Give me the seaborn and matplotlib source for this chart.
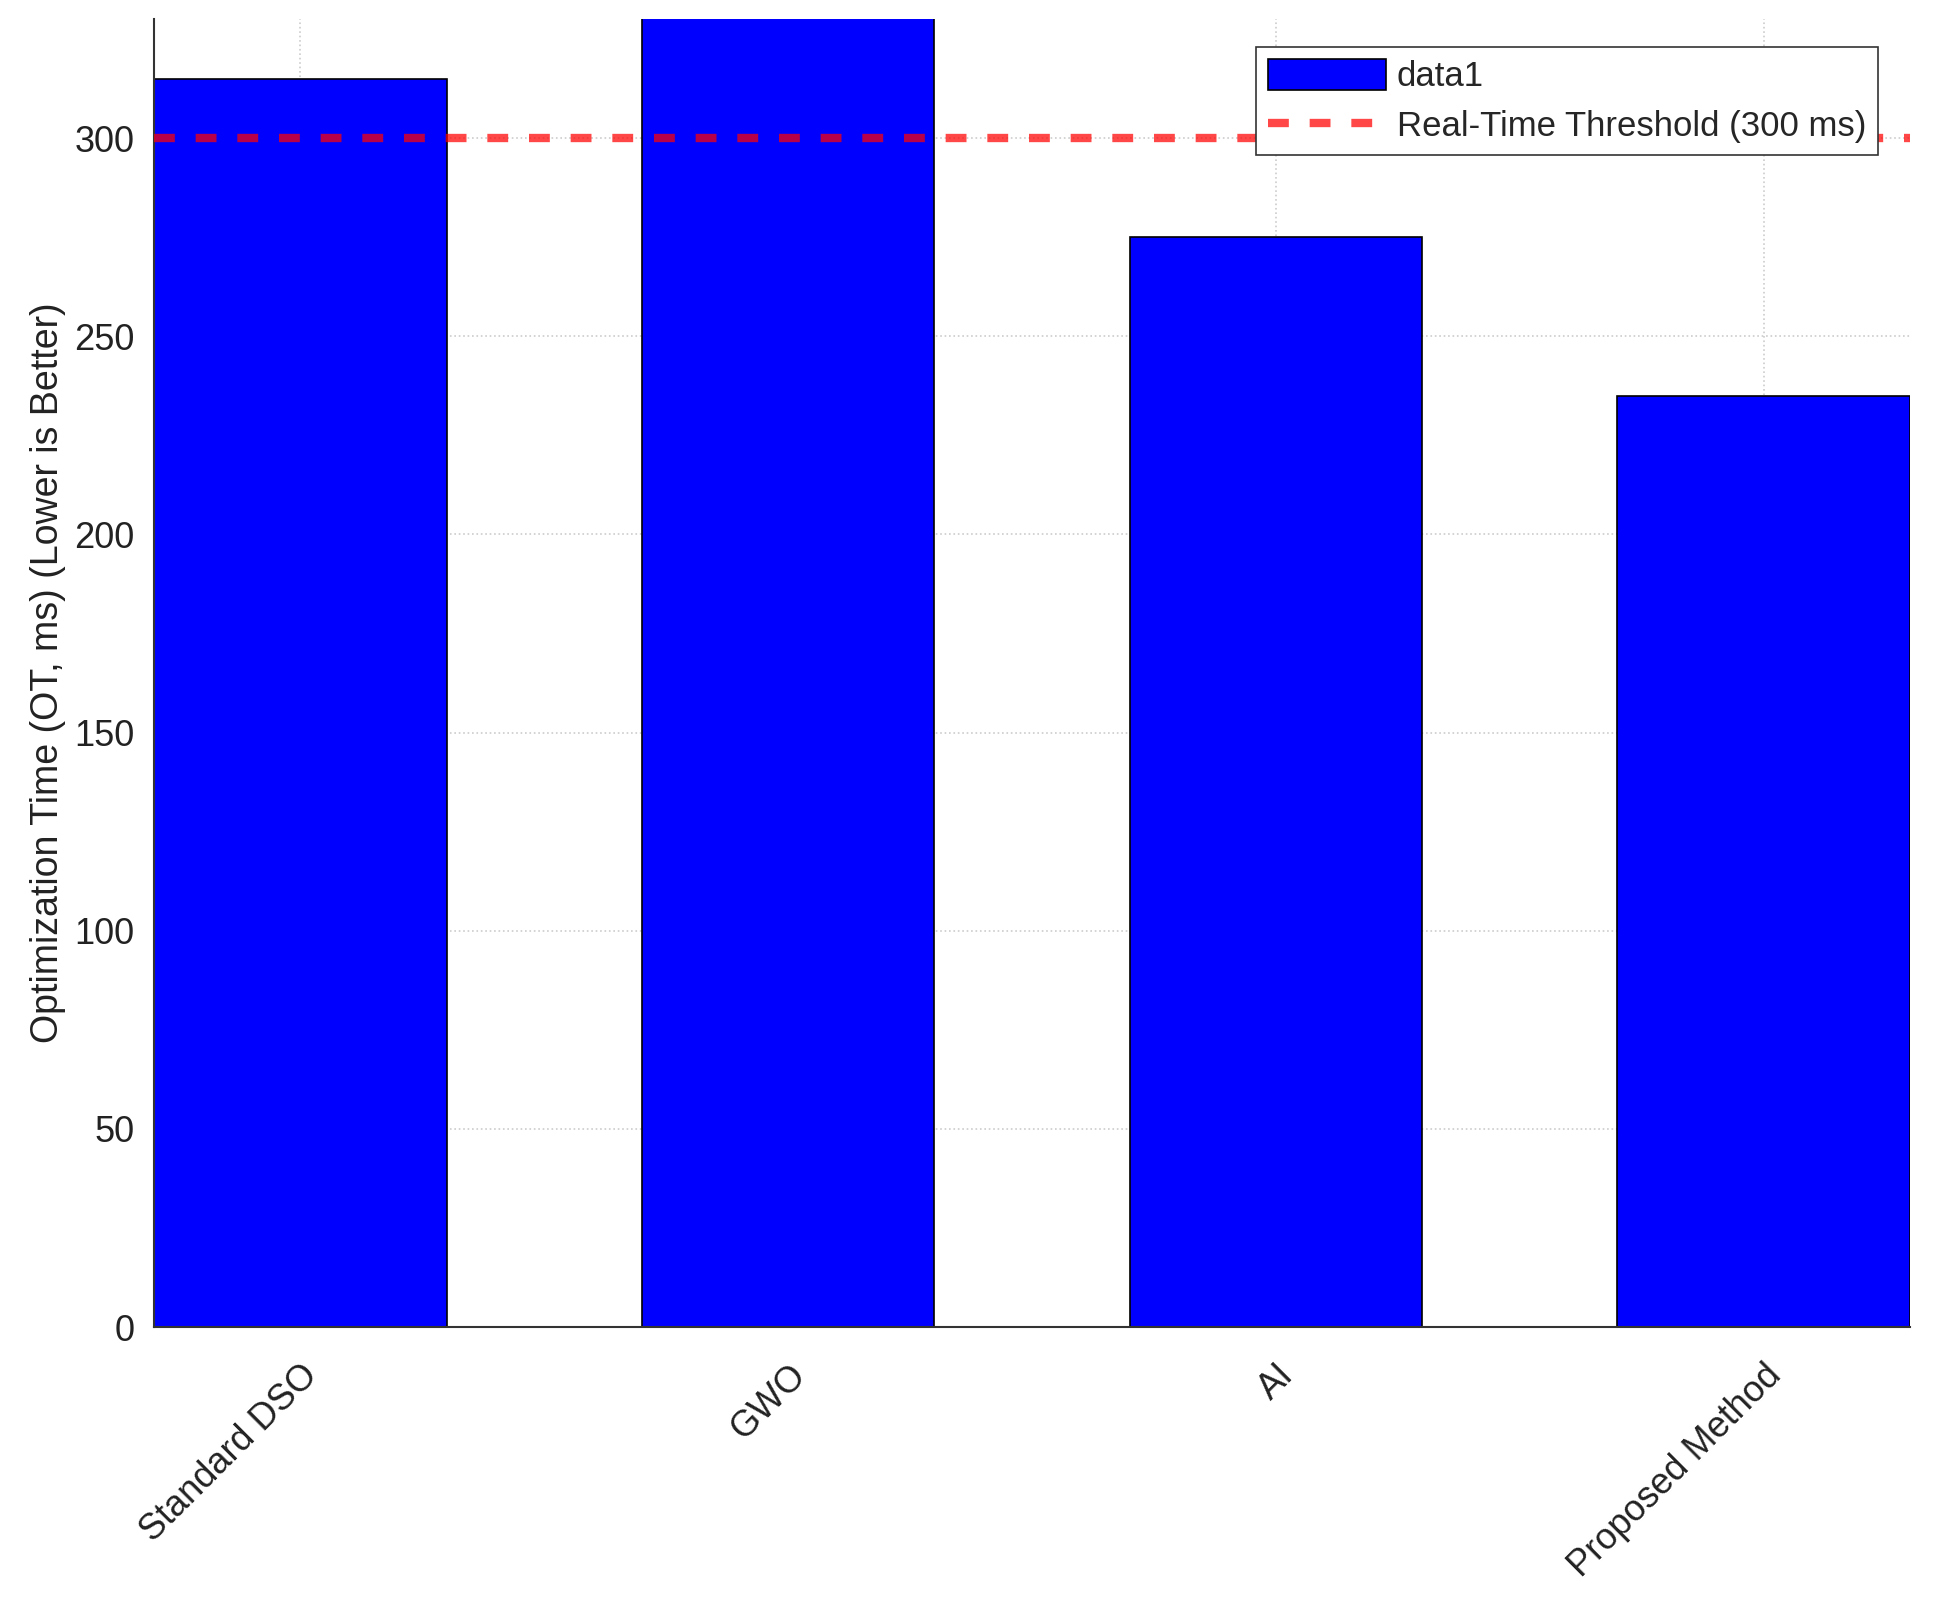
import matplotlib
matplotlib.use("Agg")
import matplotlib.pyplot as plt
import seaborn as sns
import pandas as pd

categories = ["Standard DSO", "GWO", "AI", "Proposed Method"]
opt_time = [315, 345, 275, 235]
threshold = 300
yticks = [0, 50, 100, 150, 200, 250, 300]

sns.set_theme(style="white")
plt.rcParams['font.family'] = ['Liberation Sans', 'DejaVu Sans']

df = pd.DataFrame({"method": categories, "ot": opt_time})

fig = plt.figure(figsize=(19.5, 16), dpi=100)
ax = fig.add_axes([0.079, 0.1706, 0.9005, 0.8174])
ax.set_axisbelow(True)

sns.barplot(data=df, x="method", y="ot", color="#0000FF", saturation=1,
            width=0.6, edgecolor="black", linewidth=1.2, label="data1", ax=ax)
ax.axhline(threshold, color="red", alpha=0.72, linestyle=(0, (2.5, 2.5)),
           linewidth=6, label="Real-Time Threshold (300 ms)", zorder=5)

ax.grid(True, axis='both', linestyle=':', color='#cccccc', linewidth=1.2)

ax.set_xlim(-0.3, 3.3)
ax.set_ylim(0, 330)
ax.set_yticks(yticks)
ax.set_xlabel("")
ax.set_ylabel("Optimization Time (OT, ms) (Lower is Better)", fontsize=27,
              color="#222222", labelpad=6)
ax.tick_params(axis='y', length=0, labelsize=26, colors="#222222", pad=14)
ax.tick_params(axis='x', length=0, labelsize=26, colors="#222222", pad=22)
plt.setp(ax.get_xticklabels(), rotation=45, ha='right', va='top', rotation_mode='anchor')

for s in ["top", "right"]:
    ax.spines[s].set_visible(False)
for s in ["left", "bottom"]:
    ax.spines[s].set_color("#333333")
    ax.spines[s].set_linewidth(1.5)

handles, labels = ax.get_legend_handles_labels()
order = [labels.index("data1"), labels.index("Real-Time Threshold (300 ms)")]
leg = ax.legend([handles[i] for i in order], [labels[i] for i in order],
                loc="upper right", bbox_to_anchor=(0.982, 0.979), borderaxespad=0,
                fontsize=25, frameon=True, fancybox=False, framealpha=1,
                edgecolor="#333333", handlelength=3.4, handleheight=1.0,
                borderpad=0.35, labelspacing=0.45, handletextpad=0.3)
leg.get_frame().set_linewidth(1.2)

fig.savefig("out.png", dpi=100)
